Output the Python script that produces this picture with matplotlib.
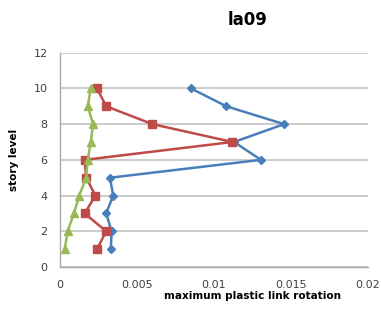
import matplotlib
matplotlib.use("Agg")
import matplotlib.pyplot as plt

levels = [1, 2, 3, 4, 5, 6, 7, 8, 9, 10]
blue = [0.0033, 0.00335, 0.0030, 0.00345, 0.00325, 0.01305, 0.0113, 0.01455, 0.0108, 0.0085]
red = [0.0024, 0.0030, 0.0016, 0.0023, 0.0017, 0.0016, 0.0112, 0.0060, 0.0030, 0.0024]
green = [0.0003, 0.0005, 0.0009, 0.00125, 0.0017, 0.0018, 0.0020, 0.00215, 0.0018, 0.0020]
xticks = [0, 0.005, 0.01, 0.015, 0.02]
xticklabels = ["0", "0.005", "0.01", "0.015", "0.02"]
yticks = [0, 2, 4, 6, 8, 10, 12]

fig = plt.figure(figsize=(3.82, 3.14), dpi=100)
ax = fig.add_axes([60/382, 1-267/314, (368-60)/382, (267-52.7)/314])

ax.plot(blue, levels, color="#4A7EBB", marker="D", markersize=4.5, linewidth=1.8, zorder=3)
ax.plot(red, levels, color="#BE4B48", marker="s", markersize=5.5, linewidth=1.8, zorder=4)
ax.plot(green, levels, color="#98B954", marker="^", markersize=5.5, linewidth=1.8, zorder=5)

ax.set_xlim(0, 0.02)
ax.set_ylim(0, 12)
ax.set_xticks(xticks)
ax.set_xticklabels(xticklabels)
ax.set_yticks(yticks)
ax.tick_params(length=0, labelsize=8, colors="#404040", pad=9)
ax.yaxis.grid(True, color="#C4C4C4", linewidth=1.2)
ax.set_axisbelow(True)
for s in ["top", "right"]:
    ax.spines[s].set_visible(False)
for s in ["left", "bottom"]:
    ax.spines[s].set_color("#AAAAAA")
    ax.spines[s].set_linewidth(1.0)

ax.set_ylabel("story level", fontsize=7.5, fontweight="bold", labelpad=10)
fig.text(253/382, 1-296/314, "maximum plastic link rotation", fontsize=7.5, fontweight="bold",
         ha="center", va="center")
fig.text(248/382, 1-20/314, "la09", fontsize=12, fontweight="bold", ha="center", va="center")

fig.savefig("out.png", dpi=100)
